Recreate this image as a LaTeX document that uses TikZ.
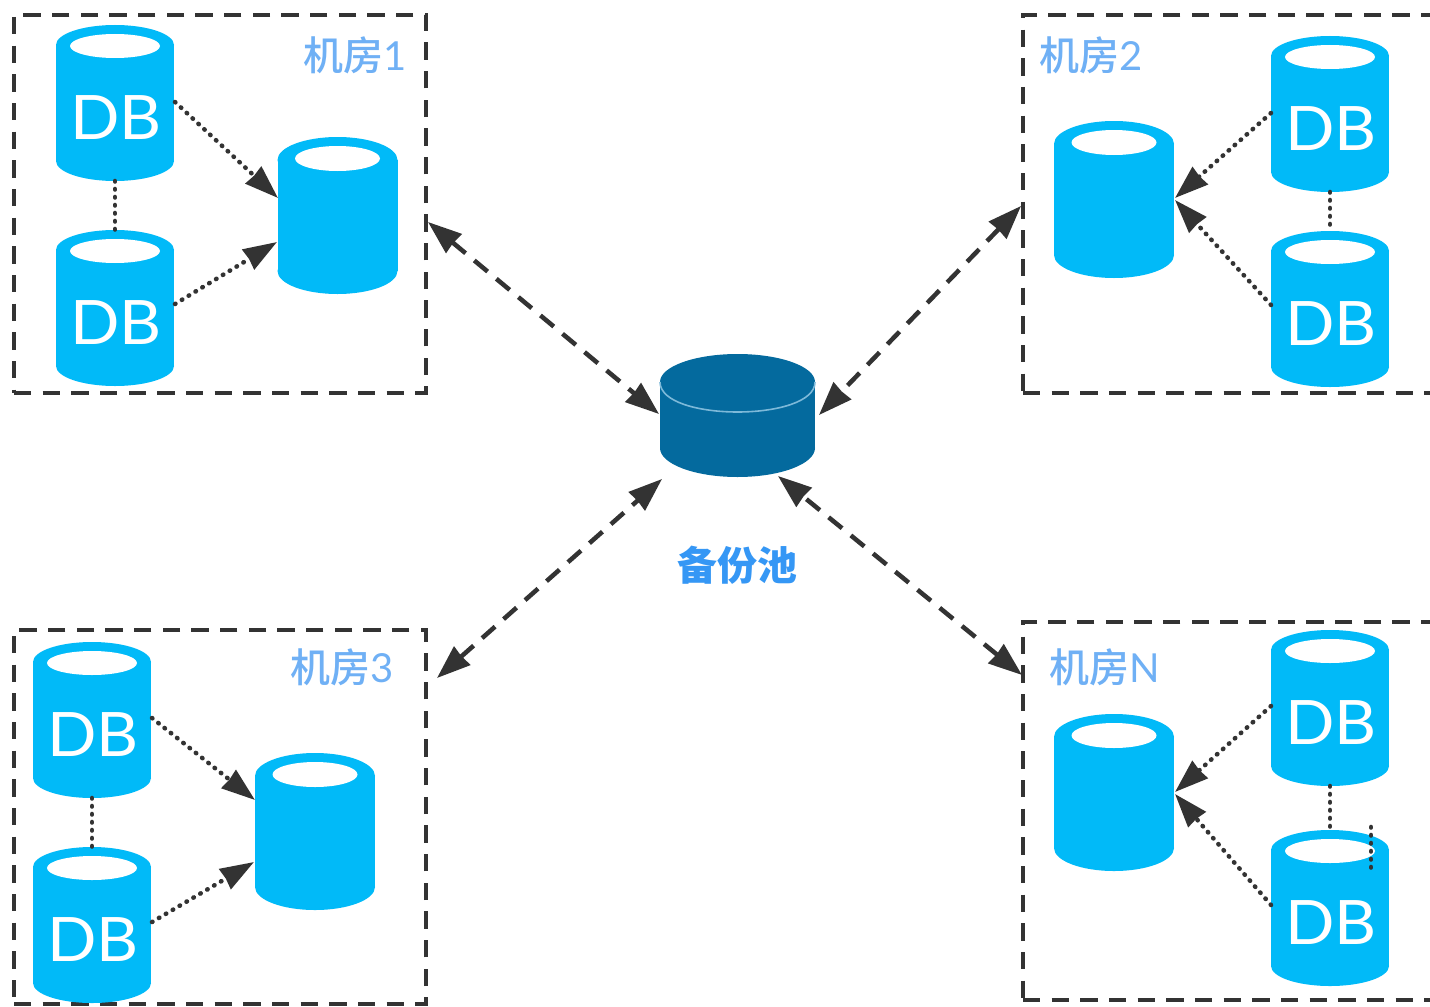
\documentclass[tikz,border=0pt]{standalone}
\usepackage{fontspec}
\usetikzlibrary{arrows.meta}
\newfontfamily\cjkfont[UprightFont={* Medium}]{Noto Sans CJK SC}
\newfontfamily\cjkbold{Noto Sans CJK SC}
\newfontfamily\latinfont{Lato}
\newfontfamily\dbfont[FakeStretch=1.06]{Lato}
\definecolor{dbblue}{HTML}{01BAF8}
\definecolor{pooldark}{HTML}{046A9E}
\definecolor{poolline}{HTML}{7DB9D9}
\definecolor{roomtxt}{HTML}{6FB0F5}
\definecolor{pooltxt}{HTML}{3597F5}
\definecolor{ink}{HTML}{333333}
\tikzset{
  roombox/.style={draw=ink,line width=3.4pt,dash pattern=on 13pt off 8.5pt,inner sep=0pt,outer sep=0pt},
  cylbody/.style={inner sep=0pt,outer sep=0pt},
  dblabel/.style={inner sep=0pt,text=white,font=\dbfont\fontsize{46}{46}\selectfont},
  roomlabel/.style={text=roomtxt,inner sep=0pt,font=\fontsize{30}{30}\selectfont},
  poollabel/.style={text=pooltxt,inner sep=0pt,font=\cjkbold\bfseries\fontsize{30}{30}\selectfont},
  dotline/.style={draw=ink,line width=3.4pt,line cap=round,dash pattern=on 0.4pt off 5.6pt},
  dotarrow/.style={dotline,-{Stealth[inset=0.5pt,length=25pt,width=17pt]}},
  linkarrow/.style={draw=ink,line width=3.4pt,dash pattern=on 13pt off 8.5pt,
    {Stealth[inset=0.5pt,length=25pt,width=18pt]}-{Stealth[inset=0.5pt,length=25pt,width=18pt]}},
}
% name, centre x, top y, half width, height, top curve ry, inner rx, inner ry
\newcommand{\dbcyl}[8]{%
  \fill[dbblue] (#2,#3+#6) ellipse [x radius=#4,y radius=#6];
  \fill[dbblue] (#2,#3+#5-#6) ellipse [x radius=#4,y radius=#6];
  \fill[dbblue] (#2-#4,#3+#6) rectangle (#2+#4,#3+#5-#6);
  \fill[white] (#2,#3+#8+9) ellipse [x radius=#7,y radius=#8];
  \node[cylbody,minimum width=#4*1.5pt,minimum height=#5*0.75pt] (#1) at (#2,#3+#5/2) {};
}
\newcommand{\smalldb}[3]{\dbcyl{#1}{#2}{#3}{59}{156}{20}{45}{12}
  \node[dblabel] (#1t) at (#2+1,#3+93) {DB};}
\newcommand{\bigdb}[3]{\dbcyl{#1}{#2}{#3}{60}{157}{23}{42.5}{12.5}}
\begin{document}
\begin{tikzpicture}[x=0.75pt,y=-0.75pt]
\useasboundingbox (0,0) rectangle (1430,1006);
\clip (0,0) rectangle (1430,1006);
\fill[white] (0,0) rectangle (1430,1006);
% rooms
\node[roombox,minimum width=412*0.75pt,minimum height=378*0.75pt] (roomA) at (220,204) {};
\node[roombox,minimum width=420*0.75pt,minimum height=378*0.75pt] (roomB) at (1233,204) {};
\node[roombox,minimum width=412*0.75pt,minimum height=374*0.75pt] (roomC) at (220,817) {};
\node[roombox,minimum width=420*0.75pt,minimum height=378*0.75pt] (roomD) at (1233,811) {};
% cylinders
\smalldb{a1}{115}{25}\smalldb{a2}{115}{230}\bigdb{a3}{337.5}{137}
\smalldb{b1}{1330}{36}\smalldb{b2}{1330}{231}\bigdb{b3}{1114}{121}
\smalldb{c1}{92}{642}\smalldb{c2}{92}{847}\bigdb{c3}{315}{753}
\smalldb{d1}{1330}{630}\smalldb{d2}{1330}{830}\bigdb{d3}{1114}{714}
% pool
\fill[pooldark] (737.5,382) ellipse [x radius=77.5,y radius=28];
\fill[pooldark] (737.5,448) ellipse [x radius=77.5,y radius=29];
\fill[pooldark] (660,382) rectangle (815,448);
\draw[poolline,line width=1.2pt] (660,382) .. controls (660,422) and (815,422) .. (815,382);
\node[inner sep=0pt,outer sep=0pt,minimum width=155*0.75pt,minimum height=124*0.75pt] (pool) at (737.5,416) {};
% labels
\node[roomlabel] (la) at (355,55) {{\cjkfont 机房}{\latinfont 1}};
\node[roomlabel] (lb) at (1091,55) {{\cjkfont 机房}{\latinfont 2}};
\node[roomlabel] (lc) at (342.5,667) {{\cjkfont 机房}{\latinfont 3}};
\node[roomlabel] (ld) at (1105,667) {{\cjkfont 机房}{\latinfont N}};
\node[poollabel] (lp) at (737.5,565) {备份池};
% free ends of the connectors
\coordinate (ae) at (428,222);\coordinate (ap) at (659,414);
\coordinate (be) at (1021,206);\coordinate (bp) at (819,415);
\coordinate (ce) at (437,678);\coordinate (cp) at (662,479);
\coordinate (de) at (1022,675);\coordinate (dp) at (778,476);
\draw[linkarrow] (ae) -- (ap);
\draw[linkarrow] (be) -- (bp);
\draw[linkarrow] (ce) -- (cp);
\draw[linkarrow] (de) -- (dp);
% dotted links
\coordinate (a1o) at (175,102);\coordinate (a1i) at (278,198);
\coordinate (a2o) at (175,304);\coordinate (a2i) at (277,242);
\coordinate (b1o) at (1271,113);\coordinate (b1i) at (1175,198);
\coordinate (b2o) at (1271,305);\coordinate (b2i) at (1175,200);
\coordinate (c1o) at (152,718);\coordinate (c1i) at (255,800);
\coordinate (c2o) at (152,922);\coordinate (c2i) at (254,862);
\coordinate (d1o) at (1271,706);\coordinate (d1i) at (1175,792);
\coordinate (d2o) at (1271,905);\coordinate (d2i) at (1175,794);
\draw[dotarrow] (a1o) -- (a1i);\draw[dotarrow] (a2o) -- (a2i);
\draw[dotarrow] (b1o) -- (b1i);\draw[dotarrow] (b2o) -- (b2i);
\draw[dotarrow] (c1o) -- (c1i);\draw[dotarrow] (c2o) -- (c2i);
\draw[dotarrow] (d1o) -- (d1i);\draw[dotarrow] (d2o) -- (d2i);
\draw[dotline] (a1.south) -- (a2.north);
\draw[dotline] (b1.south) -- (b2.north);
\draw[dotline] (c1.south) -- (c2.north);
\draw[dotline] (d1.south) -- (d2.north);
\coordinate (s1) at (1371,827);\coordinate (s2) at (1371,870);
\draw[dotline] (s1) -- (s2);
\end{tikzpicture}
\end{document}
